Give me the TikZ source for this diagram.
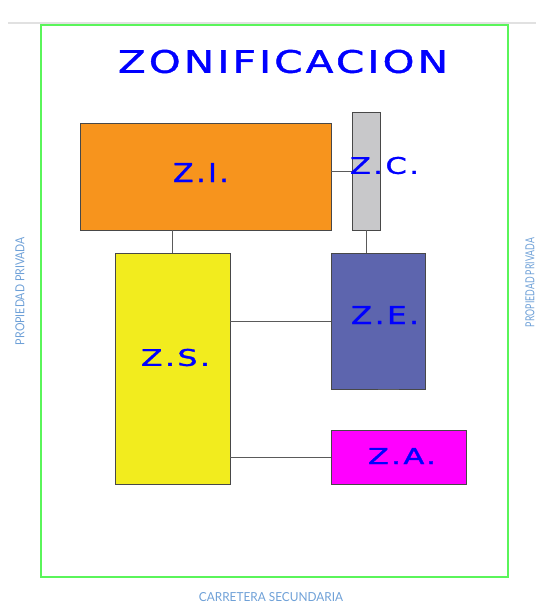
\documentclass[tikz,border=0pt]{standalone}
\usepackage{fontspec}
\usepackage{graphicx}
\newfontfamily\titlefont[LetterSpace=8,FakeBold=1.2]{DejaVu Sans}
\newfontfamily\sidefont{Lato}
\definecolor{zorange}{RGB}{247,148,29}
\definecolor{zgray}{RGB}{200,200,202}
\definecolor{zyellow}{RGB}{242,236,30}
\definecolor{zblue}{RGB}{93,101,174}
\definecolor{zmagenta}{RGB}{255,0,255}
\definecolor{zgreen}{RGB}{90,245,90}
\definecolor{zside}{RGB}{110,160,215}
\definecolor{zline}{RGB}{90,90,90}
\definecolor{zhead}{RGB}{225,225,225}
\tikzset{
  zonebox/.style={draw=zline!80!black, line width=0.8pt, rectangle, inner sep=0pt, outer sep=0pt, anchor=north west},
  zonelabel/.style={inner sep=0pt, text=blue},
  sidelabel/.style={inner sep=0pt, text=zside},
  link/.style={draw=zline, line width=0.8pt}
}
\begin{document}
\begin{tikzpicture}[x=1pt,y=-1pt]
\useasboundingbox (0,0) rectangle (536,603);
% page header line and frame
\draw[zhead, line width=2pt] (8,23) -- (536,23);
\draw[zgreen, line width=1.2pt] (41,25) rectangle (508,577);
% title
\node[zonelabel] (title) at (283,61.5) {\resizebox{330pt}{23pt}{\titlefont ZONIFICACION}};
% boxes
\node[zonebox, fill=zorange, minimum width=251pt, minimum height=107pt] (zi) at (80,123) {};
\node[zonebox, fill=zgray, minimum width=28pt, minimum height=118pt] (zc) at (352,112) {};
\node[zonebox, fill=zyellow, minimum width=115pt, minimum height=231pt] (zs) at (115,253) {};
\node[zonebox, fill=zblue, minimum width=94pt, minimum height=136pt] (ze) at (331,253) {};
\node[zonebox, fill=zmagenta, minimum width=135pt, minimum height=54pt] (za) at (331,430) {};
% connectors
\draw[link] ([yshift=5.5pt]zi.east) -- ([yshift=5.5pt]zi.east -| zc.west);
\draw[link] (zs.north) -- (zs.north |- zi.south);
\draw[link] (zc.south) -- (zc.south |- ze.north);
\draw[link] (ze.west) -- (ze.west -| zs.east);
\draw[link] (za.west) -- (za.west -| zs.east);
\draw[link] (ze.south) -- (ze.south -| za.north);
% labels
\node[zonelabel] (lzi) at (201,172.5) {\resizebox{56pt}{19pt}{\titlefont Z.I.}};
\node[zonelabel] (lzc) at (384.5,165.5) {\resizebox{69pt}{17pt}{\titlefont Z.C.}};
\node[zonelabel] (lze) at (385,315) {\resizebox{68pt}{18pt}{\titlefont Z.E.}};
\node[zonelabel] (lzs) at (175.5,357.5) {\resizebox{69pt}{17pt}{\titlefont Z.S.}};
\node[zonelabel] (lza) at (402,456) {\resizebox{68pt}{16pt}{\titlefont Z.A.}};
% side texts
\node[sidelabel, rotate=90] (left) at (20,291) {\resizebox{108pt}{9pt}{\sidefont PROPIEDAD PRIVADA}};
\node[sidelabel, rotate=90] (right) at (530,282.5) {\resizebox{89pt}{9pt}{\sidefont PROPIEDAD PRIVADA}};
\node[sidelabel] (bottom) at (271,597) {\resizebox{144pt}{9pt}{\sidefont CARRETERA SECUNDARIA}};
\end{tikzpicture}
\end{document}
